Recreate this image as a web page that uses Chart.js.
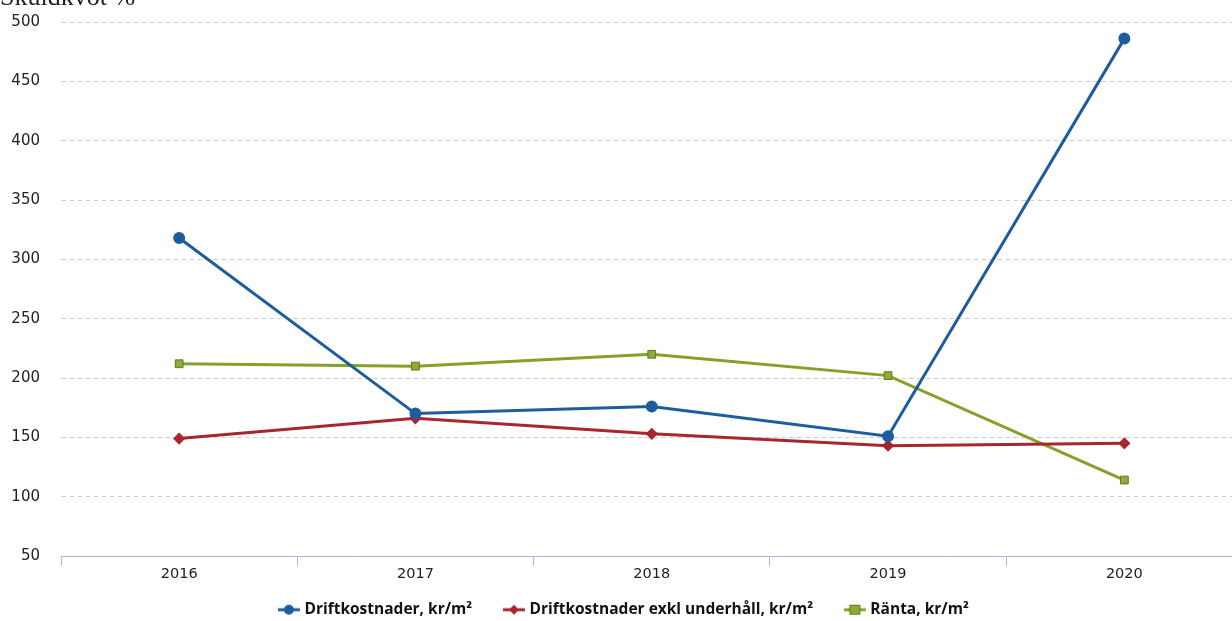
<!DOCTYPE html>
<html>
<head>
<meta charset="utf-8">
<script src="https://cdn.jsdelivr.net/npm/chart.js@4/dist/chart.umd.min.js"></script>
<style>
html,body{margin:0;padding:0;background:#fff;overflow:hidden;width:1232px;height:621px;}
#wrap{position:absolute;left:0;top:0;width:1250px;height:621px;}
#cut{position:absolute;left:0px;top:-18px;font:26px/30px "Liberation Serif",serif;color:#222;}
</style>
</head>
<body>
<div id="wrap"><canvas id="c" width="1250" height="621"></canvas></div>
<div id="cut">Skuldkvot %</div>
<script>
const years = ["2016","2017","2018","2019","2020"];
const drift = [318, 170, 176, 151, 486];
const driftExkl = [149, 166, 153, 143, 145];
const ranta = [212, 210, 220, 202, 114];
const yTicks = [50,100,150,200,250,300,350,400,450,500];
const names = ["Driftkostnader, kr/m\u00B2","Driftkostnader exkl underh\u00E5ll, kr/m\u00B2","R\u00E4nta, kr/m\u00B2"];

const blue = "#1d5d9e", red = "#a8262e", green = "#86a02c";
const LEGEND_PAD = 34;

function legendIcon(color, style, fill){
  const c = document.createElement('canvas');
  c.width = 24; c.height = 12;
  const g = c.getContext('2d');
  g.strokeStyle = color; g.lineWidth = 3;
  g.beginPath(); g.moveTo(1,6); g.lineTo(23,6); g.stroke();
  g.fillStyle = fill || color;
  if (style === 'circle'){ g.beginPath(); g.arc(12,6,5,0,Math.PI*2); g.fill(); }
  else if (style === 'rectRot'){ g.beginPath(); g.moveTo(12,1); g.lineTo(17,6); g.lineTo(12,11); g.lineTo(7,6); g.closePath(); g.fill(); }
  else { g.fillRect(7,1.5,10,9); g.strokeStyle = "#5d7a1a"; g.lineWidth=1; g.strokeRect(7,1.5,10,9);}
  return c;
}
const icons = [legendIcon(blue,'circle'), legendIcon(red,'rectRot'), legendIcon(green,'rect','#8fab36')];

const legendShift = {
  id: 'legendShift',
  beforeDraw(chart){
    const l = chart.legend;
    if (l) { l.top = 602 - LEGEND_PAD; }
  }
};

new Chart(document.getElementById('c'), {
  type: 'line',
  data: {
    labels: years,
    datasets: [
      {label: names[0], data: drift, borderColor: blue, backgroundColor: blue, borderWidth: 3, pointStyle:'circle', pointRadius: 4.5, tension: 0},
      {label: names[1], data: driftExkl, borderColor: red, backgroundColor: red, borderWidth: 3, pointStyle:'rectRot', pointRadius: 4, tension: 0},
      {label: names[2], data: ranta, borderColor: green, backgroundColor: "#8fab36", pointBorderColor: "#5d7a1a", pointBorderWidth: 1, borderWidth: 3, pointStyle:'rect', pointRadius: 5.5, tension: 0}
    ]
  },
  plugins: [legendShift],
  options: {
    responsive: false,
    animation: false,
    layout: {padding: {left: 0, right: 0, top: 22, bottom: 0}},
    plugins: {
      tooltip: {enabled: false},
      legend: {
        position: 'bottom',
        maxHeight: 31,
        labels: {
          usePointStyle: true,
          font: {family: "'Open Sans', sans-serif", size: 15.5, weight: 'bold'},
          color: '#111',
          padding: LEGEND_PAD,
          generateLabels(chart){
            return chart.data.datasets.map((d,i)=>({text: d.label, pointStyle: icons[i], fillStyle: d.borderColor, strokeStyle: d.borderColor, lineWidth: 0, hidden: false, datasetIndex: i, fontColor:'#111'}));
          }
        }
      }
    },
    scales: {
      x: {
        offset: true,
        grid: {offset: true, drawOnChartArea: false, drawTicks: true, tickLength: 10, color: '#9fbbd6'},
        border: {display: true, color: '#9fbbd6', width: 1},
        ticks: {font: {family: "'DejaVu Sans', sans-serif", size: 14.5}, color: '#222', padding: 0},
        afterFit(s){ s.height = 34; }
      },
      y: {
        min: 50, max: 500,
        afterBuildTicks(s){ s.ticks = yTicks.map(v=>({value:v})); },
        grid: {color: '#cfcfd4', drawTicks: true, tickLength: 18, tickColor: 'rgba(0,0,0,0)', lineWidth: 1},
        border: {display: false, dash: [5,3]},
        ticks: {font: {family: "'DejaVu Sans', sans-serif", size: 15}, color: '#222', padding: 3},
        afterFit(s){ s.width = 61; }
      }
    }
  }
});
</script>
</body>
</html>
